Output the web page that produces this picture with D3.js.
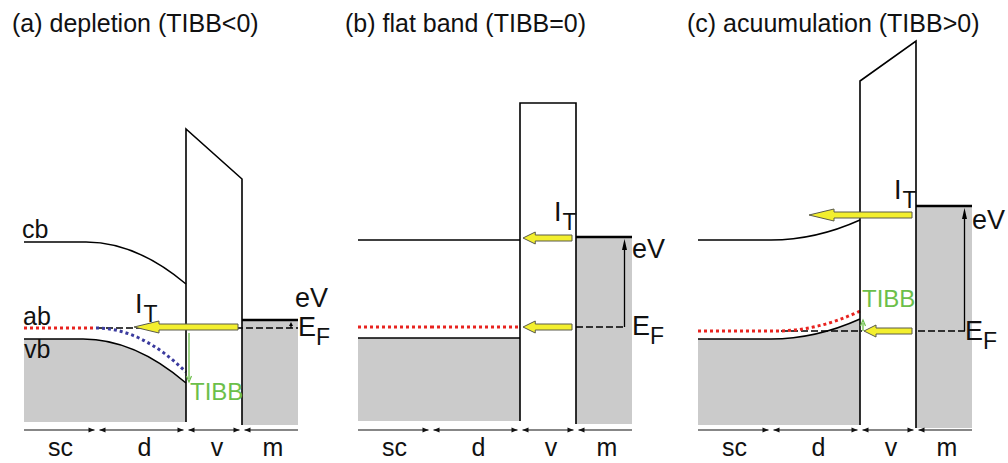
<!DOCTYPE html>
<html>
<head>
<meta charset="utf-8">
<script src="https://cdn.jsdelivr.net/npm/d3@7"></script>
<style>
  html, body { margin: 0; padding: 0; background: #fff; }
  svg { display: block; font-family: "Liberation Sans", Arial, Helvetica, sans-serif; }
</style>
</head>
<body>
<svg id="fig" width="1008" height="463"></svg>
<script>
// Band diagrams of a semiconductor (sc) / depletion zone (d) / vacuum (v) / metal tip (m)
// junction for three regimes of tip-induced band bending (TIBB).

const panelTitles = ["(a) depletion (TIBB<0)", "(b) flat band (TIBB=0)", "(c) acuumulation (TIBB>0)"];
const regionNames = ["sc", "d", "v", "m"];
// region boundaries along the junction (arbitrary length units)
const regionBounds = [0, 73, 162, 218, 274];

// energies relative to the sample Fermi level (arbitrary units)
const cbBulk     = [0.86, 0.87, 0.91];
const cbSurface  = [0.44, 0.87, 1.11];
const vbBulk     = [-0.11, -0.11, -0.08];
const vbSurface  = [-0.55, -0.11, 0.12];
const abBulk     = [0, 0, 0];
const abSurface  = [-0.44, 0, 0.20];
const barrierLeftTop  = [1.99, 2.24, 2.50];
const barrierRightTop = [1.49, 2.24, 2.90];
const biasEV     = [0.08, 0.90, 1.25];
// where each band starts to bend (length units)
const cbBendStart = [62, 73, 73];
const vbBendStart = [59, 73, 73];
const abBendStart = [72, 73, 78];
// tunnelling currents: energy level and how far each reaches into the sample
const tunnelLevels = [[0.01], [0.89, 0.0], [1.16, 0.0]];
const tunnelReach  = [[110], [165, 165], [111, 166]];
// dashed Fermi-level segments (length units)
const fermiDashes = [[[72, 274]], [[218, 266]], [[83, 164], [220, 267]]];
const sampleBottom = -0.94;
const metalBottom = -0.97;

const svg = d3.select("#fig");

const panelX0 = [24, 358, 698];
const panelEF = [328, 327, 331];
const titleX = [12, 345, 687];
const itLabel = [[135, 313], [554, 221], [894, 199]];
const evLabel = [[295, 307], [632, 258], [972, 229]];
const efLabel = [[298, 336], [632, 335], [965, 340]];
const tibbLabel = [[190, 400], null, [862, 307]];
const abCurveColor = ["#3b3b9e", "#e8231f", "#e8231f"];

function arrowHead(g, x, y, dir, len, half, color) {
  // dir: unit vector [dx, dy] pointing toward the tip
  const [dx, dy] = dir;
  const bx = x - dx * len, by = y - dy * len;
  const px = -dy, py = dx;
  const p = d3.path();
  p.moveTo(x, y);
  p.lineTo(bx + px * half, by + py * half);
  p.lineTo(bx - px * half, by - py * half);
  p.closePath();
  g.append("path").attr("d", p.toString()).attr("fill", color).attr("stroke", "none");
}

function bandPath(p, x, y, start, bend, end, eb, es) {
  p.moveTo(x(start), y(eb));
  if (Math.abs(es - eb) < 1e-6) {
    p.lineTo(x(end), y(es));
  } else {
    p.lineTo(x(bend), y(eb));
    p.quadraticCurveTo(x((bend + end) / 2), y(eb), x(end), y(es));
  }
  return p;
}

function tunnelArrow(g, xTail, xTip, yy) {
  const len = xTail - xTip;
  const head = Math.min(25, len * 0.25);
  const p = d3.path();
  p.moveTo(xTail, yy - 3);
  p.lineTo(xTip + head, yy - 3);
  p.lineTo(xTip + head, yy - 6);
  p.lineTo(xTip, yy);
  p.lineTo(xTip + head, yy + 6);
  p.lineTo(xTip + head, yy + 3);
  p.lineTo(xTail, yy + 3);
  p.closePath();
  g.append("path").attr("d", p.toString())
    .attr("fill", "#f3ef2e").attr("stroke", "#5a5a4a").attr("stroke-width", 1);
}

panelTitles.forEach((title, i) => {
  const x = d3.scaleLinear().domain([0, 274]).range([panelX0[i], panelX0[i] + 274]);
  const y = d3.scaleLinear().domain([0, 1]).range([panelEF[i], panelEF[i] - 100]);
  const g = svg.append("g");
  const [b0, b1, b2, b3, b4] = regionBounds;

  // semiconductor: filled valence band
  const fill = bandPath(d3.path(), x, y, b0, vbBendStart[i], b2, vbBulk[i], vbSurface[i]);
  fill.lineTo(x(b2), y(sampleBottom));
  fill.lineTo(x(b0), y(sampleBottom));
  fill.closePath();
  g.append("path").attr("d", fill.toString()).attr("fill", "#cbcbcb");

  // metal: filled states up to the biased Fermi level
  g.append("rect")
    .attr("x", x(b3)).attr("y", y(biasEV[i]))
    .attr("width", x(b4) - x(b3)).attr("height", y(metalBottom) - y(biasEV[i]))
    .attr("fill", "#cbcbcb");

  // conduction and valence band edges
  g.append("path")
    .attr("d", bandPath(d3.path(), x, y, b0, cbBendStart[i], b2, cbBulk[i], cbSurface[i]).toString())
    .attr("fill", "none").attr("stroke", "#000").attr("stroke-width", 1.5);
  g.append("path")
    .attr("d", bandPath(d3.path(), x, y, b0, vbBendStart[i], b2, vbBulk[i], vbSurface[i]).toString())
    .attr("fill", "none").attr("stroke", "#000").attr("stroke-width", 1.5);

  // dashed Fermi level
  fermiDashes[i].forEach(([s, e]) => {
    g.append("line")
      .attr("x1", x(s)).attr("x2", x(e)).attr("y1", y(0)).attr("y2", y(0))
      .attr("stroke", "#000").attr("stroke-width", 1.5).attr("stroke-dasharray", "7 3");
  });

  // acceptor band (dotted): flat part in red, bent part per regime
  const abFlat = d3.path();
  abFlat.moveTo(x(b0), y(abBulk[i]));
  abFlat.lineTo(x(abBendStart[i]), y(abBulk[i]));
  g.append("path").attr("d", abFlat.toString())
    .attr("fill", "none").attr("stroke", "#e8231f").attr("stroke-width", 3)
    .attr("stroke-dasharray", "3 3");
  const abCurve = d3.path();
  abCurve.moveTo(x(abBendStart[i]), y(abBulk[i]));
  if (Math.abs(abSurface[i] - abBulk[i]) < 1e-6) {
    abCurve.lineTo(x(b2), y(abSurface[i]));
  } else {
    abCurve.quadraticCurveTo(x((abBendStart[i] + b2) / 2), y(abBulk[i]), x(b2), y(abSurface[i]));
  }
  g.append("path").attr("d", abCurve.toString())
    .attr("fill", "none").attr("stroke", abCurveColor[i]).attr("stroke-width", 3)
    .attr("stroke-dasharray", "3 3");

  // vacuum barrier
  const bar = d3.path();
  bar.moveTo(x(b2), y(sampleBottom));
  bar.lineTo(x(b2), y(barrierLeftTop[i]));
  bar.lineTo(x(b3), y(barrierRightTop[i]));
  bar.lineTo(x(b3), y(metalBottom));
  g.append("path").attr("d", bar.toString())
    .attr("fill", "none").attr("stroke", "#000").attr("stroke-width", 1.6);

  // metal Fermi level (top of filled states)
  g.append("line")
    .attr("x1", x(b3)).attr("x2", x(b4)).attr("y1", y(biasEV[i])).attr("y2", y(biasEV[i]))
    .attr("stroke", "#000").attr("stroke-width", 2.4);

  // bias arrow eV
  const evX = x(i === 0 ? 267 : 266.5);
  const evTop = y(biasEV[i]) + 2;
  const headLen = i === 0 ? 4 : 11;
  g.append("line")
    .attr("x1", evX).attr("x2", evX).attr("y1", y(0)).attr("y2", evTop + headLen - 1)
    .attr("stroke", "#000").attr("stroke-width", 1.3);
  arrowHead(g, evX, evTop, [0, -1], headLen, i === 0 ? 2 : 2.5, "#000");

  // tunnelling currents
  tunnelLevels[i].forEach((lev, k) => {
    tunnelArrow(g, x(b3 - 4), x(tunnelReach[i][k]), y(lev));
  });

  // tip-induced band bending arrow
  if (tibbLabel[i]) {
    const tx = x(b2) + 3;
    const y0 = i === 0 ? y(0) + 5 : y(0);
    const y1 = y(vbSurface[i]) + (i === 0 ? -1 : 1);
    const dir = y1 > y0 ? 1 : -1;
    g.append("line")
      .attr("x1", tx).attr("x2", tx).attr("y1", y0).attr("y2", y1 - dir * 3)
      .attr("stroke", "#6cbf4a").attr("stroke-width", 1.3);
    const hp = d3.path();
    hp.moveTo(tx - 2.5, y1 - dir * 6);
    hp.lineTo(tx, y1);
    hp.lineTo(tx + 2.5, y1 - dir * 6);
    g.append("path").attr("d", hp.toString())
      .attr("fill", "none").attr("stroke", "#6cbf4a").attr("stroke-width", 1.2);
    g.append("text").attr("x", tibbLabel[i][0]).attr("y", tibbLabel[i][1])
      .attr("font-size", 24).attr("fill", "#6cbf4a").text("TIBB");
  }

  // labels
  g.append("text").attr("x", titleX[i]).attr("y", 32)
    .attr("font-size", 25).attr("fill", "#111").text(title);

  const it = g.append("text").attr("x", itLabel[i][0]).attr("y", itLabel[i][1])
    .attr("font-size", 27).attr("fill", "#111");
  it.append("tspan").text("I");
  it.append("tspan").attr("dy", 9).attr("dx", 1).attr("font-size", 23).text("T");

  g.append("text").attr("x", evLabel[i][0]).attr("y", evLabel[i][1])
    .attr("font-size", 27).attr("fill", "#111").text("eV");

  const ef = g.append("text").attr("x", efLabel[i][0]).attr("y", efLabel[i][1])
    .attr("font-size", 27).attr("fill", "#111");
  ef.append("tspan").text("E");
  ef.append("tspan").attr("dy", 9).attr("font-size", 23).text("F");

  if (i === 0) {
    g.append("text").attr("x", 22).attr("y", 238).attr("font-size", 25).attr("fill", "#111").text("cb");
    g.append("text").attr("x", 23).attr("y", 325).attr("font-size", 25).attr("fill", "#111").text("ab");
    g.append("text").attr("x", 24).attr("y", 358).attr("font-size", 25).attr("fill", "#111").text("vb");
  }

  // region extent arrows and names
  const ry = 430;
  regionNames.forEach((name, k) => {
    const s = regionBounds[k] + (k === 0 ? 0 : 2.5);
    const e = regionBounds[k + 1] - (k === regionNames.length - 1 ? 0 : 2.5);
    g.append("line")
      .attr("x1", x(s)).attr("x2", x(e)).attr("y1", ry).attr("y2", ry)
      .attr("stroke", "#111").attr("stroke-width", 1.2);
    if (k < regionNames.length - 1) arrowHead(g, x(e), ry, [1, 0], 6, 2.5, "#111");
    if (k > 0) arrowHead(g, x(s), ry, [-1, 0], 6, 2.5, "#111");
    g.append("text")
      .attr("x", (x(regionBounds[k]) + x(regionBounds[k + 1])) / 2 + (k === 0 ? 0 : 3))
      .attr("y", 456).attr("text-anchor", "middle")
      .attr("font-size", 25).attr("fill", "#111").text(name);
  });
});
</script>
</body>
</html>
